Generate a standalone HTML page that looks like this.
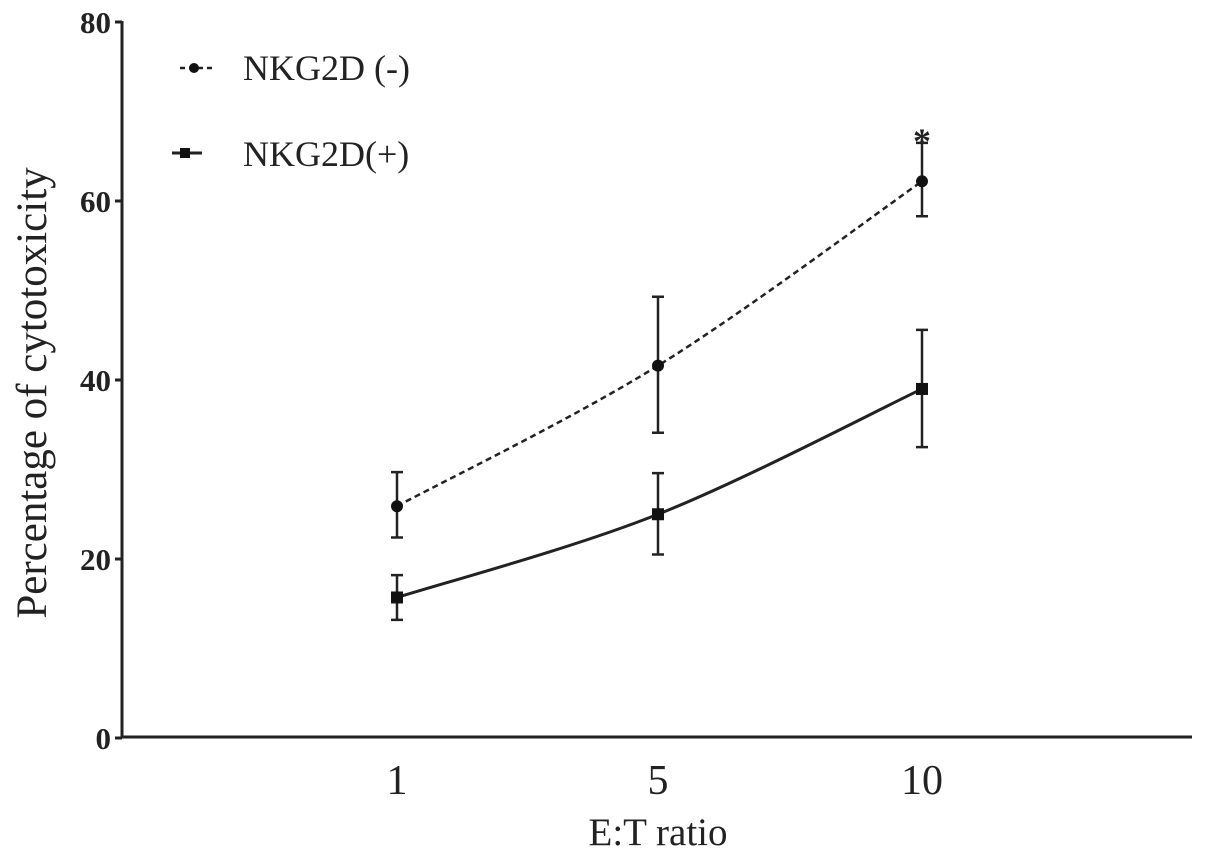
<!DOCTYPE html>
<html><head><meta charset="utf-8"><style>
body{margin:0;background:#fff}
svg{display:block;font-family:"Liberation Serif",serif}
</style></head><body>
<svg id="chart" width="1205" height="863" viewBox="0 0 1205 863">
<g id="axes" stroke="#222" stroke-width="3" fill="none">
<line x1="122" y1="21" x2="122" y2="738"/>
<line x1="121" y1="737" x2="1192" y2="737"/>
</g>
<g id="yticks"></g>
<g id="xticks"></g>
<g id="series"></g>
<text x="46" y="393" font-size="43" text-anchor="middle" transform="rotate(-90 46 393)" fill="#222">Percentage of cytotoxicity</text>
<text x="658" y="845" font-size="39" text-anchor="middle" fill="#222">E:T ratio</text>
<g>
<g>
<line x1="180" y1="68" x2="212" y2="68" stroke="#222" stroke-width="2.5" stroke-dasharray="5,4"/>
<circle cx="194" cy="68" r="5" fill="#111"/>
<text x="243" y="80" font-size="36" fill="#222">NKG2D (-)</text>
</g>
<g>
<line x1="172" y1="153" x2="202" y2="153" stroke="#222" stroke-width="3"/>
<rect x="180" y="148" width="10" height="10" fill="#111"/>
<text x="243" y="166" font-size="36" fill="#222">NKG2D(+)</text>
</g>
</g>
<text x="922" y="153" font-size="36" font-weight="bold" text-anchor="middle" fill="#222">*</text>
</svg>
<script>
const categories=["1","5","10"];
const yTicks=[0,20,40,60,80];
const negMean=[25.9,41.6,62.2];
const negLow=[22.4,34.1,58.3];
const negHigh=[29.7,49.3,66.5];
const posMean=[15.7,25.0,39.0];
const posLow=[13.2,20.5,32.5];
const posHigh=[18.2,29.6,45.6];
const NS="http://www.w3.org/2000/svg";
const catX=[397,658,922];
function xs(i){return catX[i];}
function ys(v){return 738-v*(738-22)/80;}
function mk(tag,attrs,parent){const e=document.createElementNS(NS,tag);for(const k in attrs)e.setAttribute(k,attrs[k]);parent.appendChild(e);return e;}
const yt=document.getElementById('yticks');
yTicks.forEach(v=>{
 const l=mk('line',{x1:115,x2:122,y1:ys(v),y2:ys(v),stroke:'#222','stroke-width':3},yt);
 
 
 const t=mk('text',{x:111,y:ys(v)+11,'text-anchor':'end','font-size':31,'font-weight':'bold',fill:'#222'},yt);
 t.textContent=v;
 
 
});
const xt=document.getElementById('xticks');
categories.forEach((c,i)=>{
 const t=mk('text',{x:xs(i),y:794,'text-anchor':'middle','font-size':42,fill:'#222'},xt);
 t.textContent=c;
 
 
});
const sg=document.getElementById('series');
function path(mean){
 let d='M'+xs(0)+','+ys(mean[0]);
 for(let i=1;i<mean.length;i++){
  const x0=xs(i-1),y0=ys(mean[i-1]),x1=xs(i),y1=ys(mean[i]);
  const px=i>1?xs(i-2):x0,py=i>1?ys(mean[i-2]):y0;
  const nx=i<mean.length-1?xs(i+1):x1,ny=i<mean.length-1?ys(mean[i+1]):y1;
  const c1x=x0+(x1-px)/6,c1y=y0+(y1-py)/6,c2x=x1-(nx-x0)/6,c2y=y1-(ny-y0)/6;
  d+=' C'+c1x+','+c1y+' '+c2x+','+c2y+' '+x1+','+y1;
 }
 return d;
}
function series(mean,lo,hi,name,dashed,square){
 const g=mk('g',{},sg);
 
 
 const p=mk('path',{d:path(mean),fill:'none',stroke:'#222','stroke-width':dashed?2.5:3,'stroke-dasharray':dashed?'6,4':'none'},g);
 
 
 mean.forEach((v,i)=>{
  const x=xs(i);
  const e=mk('path',{d:`M${x},${ys(lo[i])}V${ys(hi[i])}M${x-6},${ys(lo[i])}H${x+6}M${x-6},${ys(hi[i])}H${x+6}`,stroke:'#222','stroke-width':2.5,fill:'none'},g);
  
  
  let m;
  if(square)m=mk('rect',{x:x-6,y:ys(v)-6,width:12,height:12,fill:'#111'},g);
  else m=mk('circle',{cx:x,cy:ys(v),r:6,fill:'#111'},g);
  
  
 });
}
series(negMean,negLow,negHigh,'nkg2d-neg-series',true,false);
series(posMean,posLow,posHigh,'nkg2d-pos-series',false,true);
</script>
</body></html>
